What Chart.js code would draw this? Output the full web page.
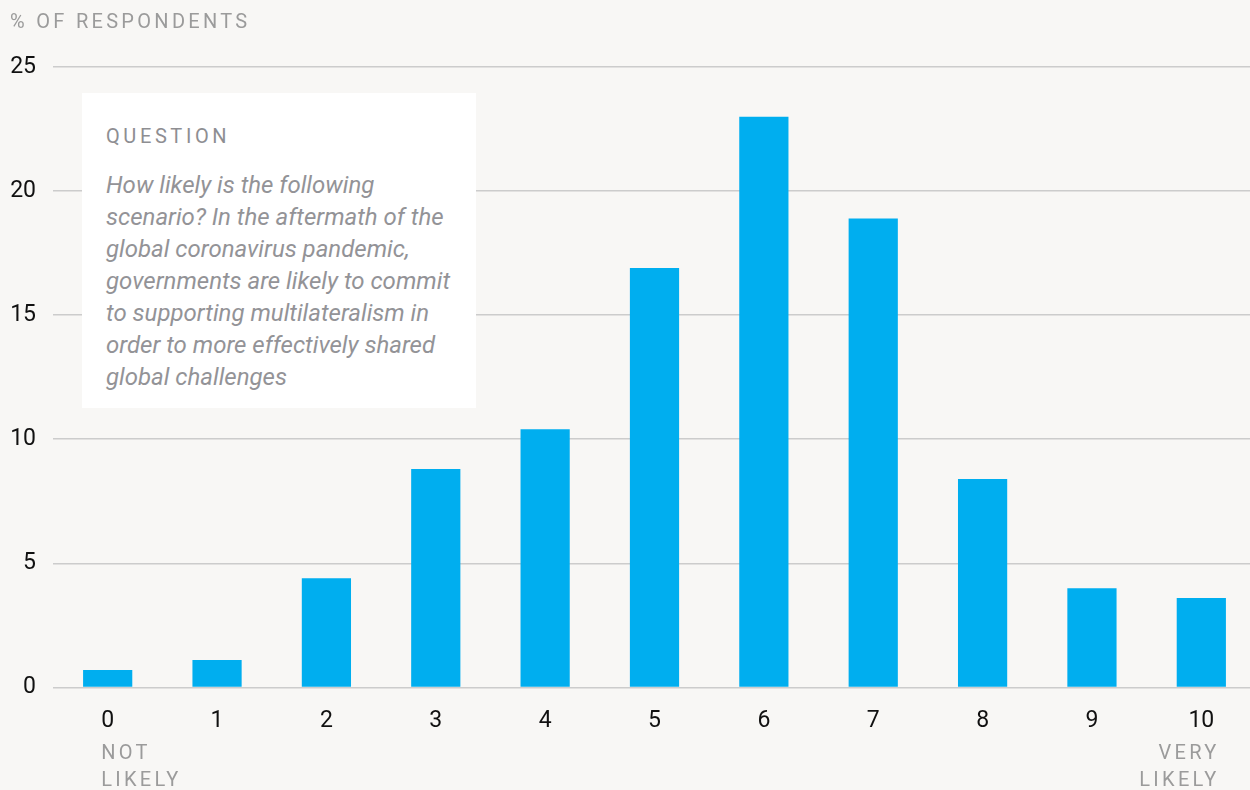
<!DOCTYPE html>
<html>
<head>
<meta charset="utf-8">
<script src="https://cdn.jsdelivr.net/npm/chart.js@4/dist/chart.umd.min.js"></script>
<style>
  html,body{margin:0;padding:0;background:#f8f7f5;width:1250px;height:790px;overflow:hidden;}
  #wrap{position:absolute;left:0;top:0;width:1256px;height:790px;}
  #ytitle{position:absolute;left:10px;top:10px;font:20px Roboto, sans-serif;letter-spacing:3.3px;color:#9b9b9b;white-space:nowrap;line-height:22px;}
  #qbox{position:absolute;left:82px;top:93px;width:394px;height:315px;background:#ffffff;box-sizing:border-box;padding:33px 0 0 24px;}
  #qtitle{font:20px Roboto, sans-serif;letter-spacing:3.6px;color:#8e8e92;line-height:20px;margin-bottom:23px;}
  #qtext{font:italic 24px Roboto, sans-serif;color:#939397;line-height:32px;white-space:nowrap;}
</style>
</head>
<body>
<div id="wrap"><canvas id="c"></canvas></div>
<div id="ytitle">% OF RESPONDENTS</div>
<div id="qbox">
  <div id="qtitle">QUESTION</div>
  <div id="qtext">How likely is the following<br>scenario? In the aftermath of the<br>global coronavirus pandemic,<br>governments are likely to commit<br>to supporting multilateralism in<br>order to more effectively shared<br>global challenges</div>
</div>
<script>
const categories = ['0','1','2','3','4','5','6','7','8','9','10'];
const values = [0.7, 1.1, 4.4, 8.8, 10.4, 16.9, 23.0, 18.9, 8.4, 4.0, 3.6];
const yTicks = [0, 5, 10, 15, 20, 25];
const lowEndLabel = ['NOT', 'LIKELY'];
const highEndLabel = ['VERY', 'LIKELY'];

const endLabelsPlugin = {
  id: 'endLabels',
  afterDraw(chart) {
    const ctx = chart.ctx;
    const x = chart.scales.x;
    const x0 = x.getPixelForValue(0);
    const x1 = x.getPixelForValue(categories.length - 1);
    const ls = 3.3;
    ctx.save();
    ctx.font = '20px Roboto, sans-serif';
    ctx.letterSpacing = ls + 'px';
    ctx.fillStyle = '#9b9b9b';
    ctx.textBaseline = 'middle';
    const ys = [754, 781];
    ctx.textAlign = 'left';
    lowEndLabel.forEach((t, i) => ctx.fillText(t, x0 - 6.5, ys[i]));
    ctx.textAlign = 'right';
    highEndLabel.forEach((t, i) => ctx.fillText(t, x1 + 15 + ls, ys[i]));
    ctx.restore();
  }
};

new Chart(document.getElementById('c'), {
  type: 'bar',
  data: {
    labels: categories,
    datasets: [{
      data: values,
      backgroundColor: '#00aeef',
      borderWidth: 0,
      barPercentage: 0.45,
      categoryPercentage: 1.0
    }]
  },
  options: {
    responsive: true,
    maintainAspectRatio: false,
    animation: false,
    events: [],
    layout: { padding: { top: 67, bottom: 35, left: 0, right: 0 } },
    plugins: { legend: { display: false }, tooltip: { enabled: false } },
    scales: {
      x: {
        grid: { display: false, drawTicks: false },
        border: { display: false },
        ticks: { color: '#111111', font: { family: 'Roboto', size: 23 }, padding: 20, maxRotation: 0 }
      },
      y: {
        min: 0, max: 25,
        afterFit(scale) { scale.width = 53; },
        afterBuildTicks(scale) { scale.ticks = yTicks.map(v => ({ value: v })); },
        grid: { color: '#cccccc', lineWidth: 1.5, drawTicks: false },
        border: { display: false },
        ticks: { color: '#111111', font: { family: 'Roboto', size: 23 }, padding: 17 }
      }
    }
  },
  plugins: [endLabelsPlugin]
});
</script>
</body>
</html>
